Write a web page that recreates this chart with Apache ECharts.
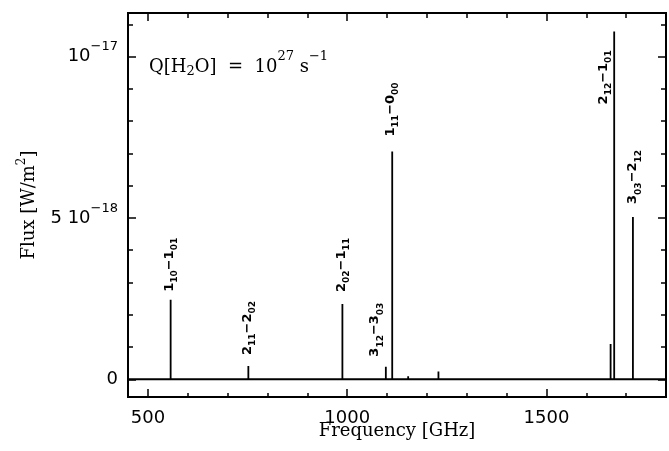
<!DOCTYPE html>
<html>
<head>
<meta charset="utf-8">
<script src="https://cdn.jsdelivr.net/npm/echarts@6/dist/echarts.min.js"></script>
<style>
html, body { margin: 0; padding: 0; background: #fff; }
#main { width: 669px; height: 451px; }
</style>
</head>
<body>
<div id="main"></div>
<script>
// water line frequencies [GHz]
const freqs = [557, 752, 988, 1097, 1113, 1153, 1158, 1229, 1602, 1661, 1670, 1717];
// line flux [1e-18 W/m^2]
const fluxes = [2.46, 0.41, 2.33, 0.39, 7.06, 0.09, 0.06, 0.24, 0.04, 1.09, 10.78, 5.03];

// labelled transitions
const labelFreqs = [557, 752, 988, 1097, 1113, 1670, 1717];
const labelUpper = [['1', '10'], ['2', '11'], ['2', '02'], ['3', '12'], ['1', '11'], ['2', '12'], ['3', '03']];
const labelLower = [['1', '01'], ['2', '02'], ['1', '11'], ['3', '03'], ['0', '00'], ['1', '01'], ['2', '12']];

// axis ticks
const xMajor = [500, 1000, 1500];
const xMinor = [600, 700, 800, 900, 1100, 1200, 1300, 1400, 1600, 1700, 1800];
const yMajor = [0, 5, 10];
const yMinor = [1, 2, 3, 4, 6, 7, 8, 9, 11];
const yLabels = ['0', '5 10{sup|\u221218}', '10{sup|\u221217}'];

// label placement relative to line top [dx, dy] px
const labelPlace = [[-1, -8], [-1, -11], [-1, -12], [-11, -10], [-2, -15], [-11, 73], [0, -13]];

const SERIF = 'DejaVu Serif';
const SANS = 'DejaVu Sans';

let myChart;
let chartOption;

function init() {
	myChart = echarts.init(document.getElementById('main'));

	// stick spectrum: baseline with spikes
	let spectrum = [[450, 0]];
	for (let i = 0; i < freqs.length; i++) {
		spectrum.push([freqs[i], 0], [freqs[i], fluxes[i]], [freqs[i], 0]);
	}
	spectrum.push([1800, 0]);

	let labelData = labelFreqs.map(function (f) {
		return [f, fluxes[freqs.indexOf(f)]];
	});

	function xAx(pos, ticks, len, labels) {
		return {
			type: 'value', position: pos, min: 450, max: 1800,
			axisLine: { show: true, onZero: false, lineStyle: { color: '#000', width: 2 } },
			axisTick: { show: true, inside: true, length: len, customValues: ticks, lineStyle: { color: '#000', width: 1.5 } },
			axisLabel: labels ? {
				show: true, customValues: ticks, margin: 12, color: '#000',
				fontFamily: SANS, fontSize: 18,
				formatter: function (v) { return String(v); }
			} : { show: false },
			splitLine: { show: false }
		};
	}

	function yAx(pos, ticks, len, labels) {
		return {
			type: 'value', position: pos, min: -0.55, max: 11.35,
			axisLine: { show: true, onZero: false, lineStyle: { color: '#000', width: 2 } },
			axisTick: { show: true, inside: true, length: len, customValues: ticks, lineStyle: { color: '#000', width: 1.5 } },
			axisLabel: labels ? {
				show: true, customValues: ticks, margin: 10, color: '#000',
				fontFamily: SANS, fontSize: 18, lineHeight: 32,
				formatter: function (v) { return yLabels[yMajor.indexOf(v)]; },
				rich: {
					sup: { fontFamily: SANS, fontSize: 13, lineHeight: 13, verticalAlign: 'top', color: '#000' }
				}
			} : { show: false },
			splitLine: { show: false }
		};
	}

	let xAxes = [xAx('bottom', xMajor, 8, true), xAx('bottom', xMinor, 4, false),
		xAx('top', xMajor, 8, false), xAx('top', xMinor, 5, false)];
	xAxes[0].name = 'Frequency [GHz]';
	xAxes[0].nameLocation = 'middle';
	xAxes[0].nameMoveOverlap = false;
	xAxes[0].nameGap = 25;
	xAxes[0].nameTextStyle = { fontFamily: SERIF, fontSize: 18, color: '#000' };

	let yAxes = [yAx('left', yMajor, 8, true), yAx('left', yMinor, 5, false),
		yAx('right', yMajor, 8, false), yAx('right', yMinor, 5, false)];
	yAxes[0].name = '{m|Flux [W/m}{sup|2}{m|]}';
	yAxes[0].nameLocation = 'middle';
	yAxes[0].nameMoveOverlap = false;
	yAxes[0].nameGap = 86;
	yAxes[0].nameTextStyle = {
		fontFamily: SERIF, fontSize: 18, color: '#000',
		rich: {
			m: { fontFamily: SERIF, fontSize: 18, lineHeight: 26, verticalAlign: 'middle', color: '#000' },
			sup: { fontFamily: SERIF, fontSize: 12, lineHeight: 12, verticalAlign: 'top', color: '#000' }
		}
	};

	const labelRich = {
		m: { fontFamily: SANS, fontWeight: 'bold', fontSize: 13, lineHeight: 20, verticalAlign: 'middle', fill: '#000' },
		s: { fontFamily: SANS, fontWeight: 'bold', fontSize: 9, lineHeight: 9, verticalAlign: 'bottom', fill: '#000' }
	};

	chartOption = {
		animation: false,
		backgroundColor: '#fff',
		grid: { left: 128, top: 13, width: 538, height: 384, containLabel: false },
		xAxis: xAxes,
		yAxis: yAxes,
		graphic: [{
			type: 'text', left: 149, top: 50,
			style: {
				text: '{m|Q[H}{sub|2}{m|O]  =  10}{sup|27}{m| s}{sup|\u22121}',
				fill: '#000',
				rich: {
					m: { fontFamily: SERIF, fontSize: 18, lineHeight: 34, verticalAlign: 'middle', fill: '#000' },
					sub: { fontFamily: SERIF, fontSize: 13, lineHeight: 13, verticalAlign: 'bottom', padding: [0, 0, 6, 0], fill: '#000' },
					sup: { fontFamily: SERIF, fontSize: 13, lineHeight: 13, verticalAlign: 'top', fill: '#000' }
				}
			}
		}],
		series: [
			{
				type: 'line',
				data: spectrum,
				showSymbol: false,
				lineStyle: { color: '#000', width: 1.8 },
				silent: true
			},
			{
				type: 'custom',
				data: labelData,
				silent: true,
				renderItem: function (params, api) {
					let i = params.dataIndex;
					let p = api.coord([api.value(0), api.value(1)]);
					let u = labelUpper[i], l = labelLower[i];
					return {
						type: 'text',
						x: p[0] + labelPlace[i][0],
						y: p[1] + labelPlace[i][1],
						rotation: Math.PI / 2,
						style: {
							text: '{m|' + u[0] + '}{s|' + u[1] + '}{m|\u2212' + l[0] + '}{s|' + l[1] + '}',
							rich: labelRich,
							align: 'left',
							verticalAlign: 'middle',
							fill: '#000'
						}
					};
				}
			}
		]
	};

	chartOption && myChart.setOption(chartOption);
}

init();
</script>
</body>
</html>
